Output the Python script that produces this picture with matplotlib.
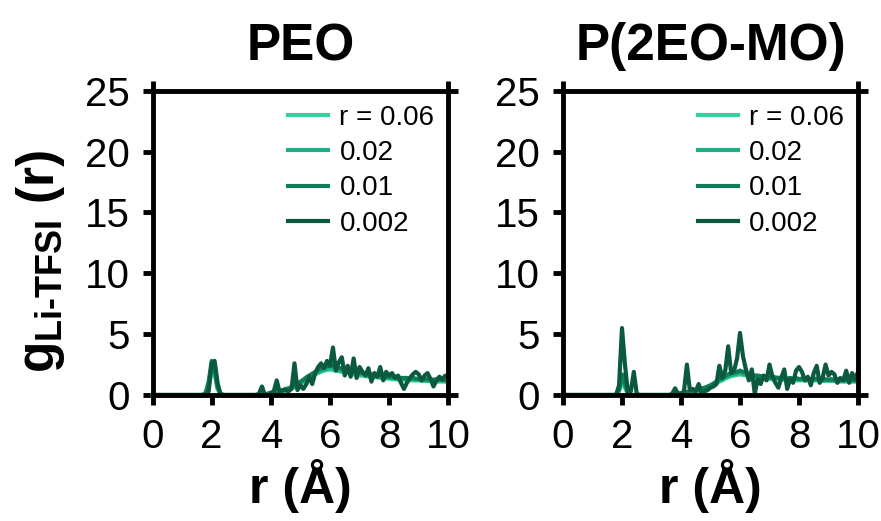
import numpy as np
import matplotlib
matplotlib.use("Agg")
import matplotlib.pyplot as plt

plt.rcParams['font.family'] = ['Liberation Sans', 'DejaVu Sans']
plt.rcParams['mathtext.fontset'] = 'custom'
plt.rcParams['mathtext.rm'] = 'Liberation Sans:bold'
plt.rcParams['mathtext.bf'] = 'Liberation Sans:bold'
plt.rcParams['mathtext.it'] = 'Liberation Sans:italic'

# ---------------- data ----------------
r_grid = np.round(np.arange(0, 101) * 0.1, 1)  # 0.0 .. 10.0 Å

series_labels = ["r = 0.06", "0.02", "0.01", "0.002"]
series_colors = ["#34d1a0", "#1db086", "#0f7d5a", "#0b5a40"]
panel_titles = ["PEO", "P(2EO-MO)"]

# PEO
peo_006 = ([0.0] * 18 + [0.1, 0.7, 2.0, 1.7, 0.5, 0.1] + [0.0] * 14 +
           [0.05, 0.1, 0.1, 0.15, 0.2, 0.25, 0.3, 0.35, 0.45, 0.55, 0.65, 0.8,
            0.95, 1.1, 1.25, 1.4, 1.55, 1.7, 1.8, 1.9, 2.0, 2.05, 2.1, 2.05,
            2.0, 1.95, 1.9, 1.85, 1.8, 1.75, 1.7, 1.65, 1.6, 1.6, 1.55, 1.5,
            1.5, 1.45, 1.45, 1.4, 1.4, 1.35, 1.35,
            1.3, 1.3, 1.25, 1.25, 1.25, 1.2, 1.2, 1.2, 1.2, 1.2, 1.15, 1.15,
            1.15, 1.15, 1.1, 1.1, 1.1, 1.1, 1.1, 1.1])
peo_002 = ([0.0] * 18 + [0.15, 0.9, 2.4, 2.0, 0.6, 0.1] + [0.0] * 14 +
           [0.05, 0.1, 0.15, 0.2, 0.25, 0.3, 0.35, 0.4, 0.5, 0.6, 0.7, 0.85,
            1.0, 1.15, 1.3, 1.45, 1.6, 1.75, 1.9, 2.0, 2.1, 2.15, 2.25, 2.2,
            2.15, 2.05, 2.0, 1.95, 1.9, 1.85, 1.8, 1.75, 1.7, 1.7, 1.65, 1.6,
            1.6, 1.55, 1.5, 1.5, 1.45, 1.45, 1.4,
            1.4, 1.35, 1.35, 1.35, 1.3, 1.3, 1.3, 1.3, 1.25, 1.25, 1.25, 1.25,
            1.2, 1.2, 1.2, 1.2, 1.2, 1.2, 1.2, 1.2])
peo_001 = ([0.0] * 18 + [0.2, 1.1, 2.8, 2.3, 0.7, 0.1] + [0.0] * 14 +
           [0.05, 0.1, 0.2, 0.25, 0.3, 0.35, 0.4, 0.5, 0.55, 0.65, 0.8, 0.95,
            1.1, 1.25, 1.45, 1.6, 1.75, 1.9, 2.05, 2.2, 2.3, 2.35, 2.45, 2.4,
            2.3, 2.25, 2.15, 2.1, 2.05, 1.95, 1.9, 1.85, 1.85, 1.8, 1.75, 1.7,
            1.7, 1.65, 1.6, 1.6, 1.55, 1.5, 1.5,
            1.5, 1.45, 1.45, 1.4, 1.4, 1.4, 1.35, 1.4, 1.35, 1.3, 1.35, 1.3,
            1.3, 1.3, 1.25, 1.3, 1.25, 1.25, 1.2, 1.25])
peo_0002 = ([0.0] * 19 + [0.3, 2.6, 2.8, 1.0, 0.0] + [0.0] * 12 +
            [0.1, 0.7, 0.0, 0.0, 0.1, 0.3, 1.2, 0.2, 0.4, 0.4, 0.3, 0.5, 2.6,
             0.4, 0.8, 0.5, 0.9, 1.5, 0.9, 1.8, 2.3, 2.6, 2.2, 2.8, 2.4, 3.9,
             2.0, 2.7, 3.1, 1.6, 2.4, 1.5, 3.0, 1.4, 2.3, 1.9, 1.6, 2.2, 1.1,
             1.8, 1.5, 2.3, 1.2, 1.9, 1.6, 1.8, 1.4, 1.6, 1.0, 0.5, 1.0, 1.4,
             1.7, 1.9, 1.7, 1.2, 1.6, 1.8, 1.3, 0.7, 1.2, 1.5, 1.3, 1.6, 1.5])

# P(2EO-MO)
p2eo_006 = ([0.0] * 19 + [0.3, 1.0, 0.6, 0.1] + [0.0] * 15 +
            [0.05, 0.05, 0.1, 0.1, 0.15, 0.2, 0.25, 0.3, 0.35, 0.4, 0.5, 0.6,
             0.7, 0.8, 0.95, 1.1, 1.2, 1.35, 1.45, 1.55, 1.6, 1.65, 1.7, 1.65,
             1.6, 1.55, 1.5, 1.45, 1.4, 1.4, 1.35, 1.35, 1.3, 1.3, 1.3, 1.3,
             1.25, 1.25, 1.25, 1.25, 1.25, 1.2, 1.2, 1.2, 1.2, 1.2, 1.2, 1.2,
             1.2, 1.15, 1.15, 1.15, 1.15, 1.15, 1.15, 1.15, 1.1, 1.1, 1.1,
             1.1, 1.1, 1.1, 1.1])
p2eo_002 = ([0.0] * 19 + [0.4, 1.4, 0.8, 0.15] + [0.0] * 15 +
            [0.05, 0.1, 0.1, 0.15, 0.2, 0.25, 0.3, 0.35, 0.4, 0.5, 0.55, 0.65,
             0.75, 0.9, 1.05, 1.2, 1.3, 1.45, 1.55, 1.65, 1.7, 1.75, 1.8, 1.75,
             1.7, 1.65, 1.6, 1.55, 1.5, 1.5, 1.45, 1.45, 1.4, 1.4, 1.4, 1.35,
             1.35, 1.35, 1.3, 1.35, 1.3, 1.3, 1.3, 1.3, 1.25, 1.3, 1.25, 1.25,
             1.25, 1.25, 1.2, 1.25, 1.2, 1.2, 1.2, 1.2, 1.2, 1.15, 1.2, 1.15,
             1.15, 1.15, 1.15])
p2eo_001 = ([0.0] * 19 + [0.5, 1.7, 1.0, 0.2] + [0.0] * 15 +
            [0.05, 0.1, 0.15, 0.2, 0.25, 0.3, 0.35, 0.4, 0.45, 0.55, 0.6, 0.7,
             0.8, 0.95, 1.1, 1.3, 1.4, 1.55, 1.7, 1.8, 1.85, 1.9, 2.0, 1.9,
             1.85, 1.75, 1.7, 1.6, 1.6, 1.55, 1.5, 1.55, 1.45, 1.5, 1.45, 1.4,
             1.45, 1.4, 1.35, 1.4, 1.35, 1.4, 1.3, 1.35, 1.3, 1.35, 1.3, 1.3,
             1.35, 1.3, 1.25, 1.3, 1.25, 1.3, 1.25, 1.25, 1.3, 1.2, 1.25, 1.2,
             1.25, 1.2, 1.2])
p2eo_0002 = ([0.0] * 19 + [0.8, 5.5, 2.5, 0.2, 0.3, 1.9, 0.1] + [0.0] * 11 +
             [0.1, 0.55, 0.1, 0.1, 0.3, 2.5, 0.4, 0.5, 0.3, 0.9, 0.1, 0.3, 0.4,
              0.6, 0.7, 0.9, 2.4, 1.4, 2.0, 4.0, 1.8, 2.0, 3.0, 5.1, 3.2, 2.1,
              1.2, 2.1, 0.1, 1.3, 0.9, 1.6, 1.2, 2.5, 1.5, 1.0, 0.6, 1.4, 2.1,
              0.5, 1.3, 1.0, 2.0, 2.3, 1.9, 1.2, 1.5, 0.8, 1.8, 2.4, 1.0, 1.4,
              2.5, 1.6, 1.9, 1.7, 1.0, 1.4, 1.2, 2.0, 1.0, 1.8, 1.3, 1.9])

panels = [
    [peo_006, peo_002, peo_001, peo_0002],
    [p2eo_006, p2eo_002, p2eo_001, p2eo_0002],
]

# ---------------- figure ----------------
fig = plt.figure(figsize=(8.81, 5.21), dpi=100)
W, H = 881, 521
boxes = [(152.5, 448.3), (563.0, 858.0)]
top_px, bot_px = 90.7, 395.0

spine_lw = 3.5
data_lw = 3.0
tick_len = 7.5
tick_fs = 29

axes = []
for (x0, x1), series, title in zip(boxes, panels, panel_titles):
    ax = fig.add_axes([x0 / W, (H - bot_px) / H, (x1 - x0) / W, (bot_px - top_px) / H])
    for vals, col, lab in zip(series, series_colors, series_labels):
        ax.plot(r_grid, vals, color=col, lw=data_lw, label=lab, solid_joinstyle='round',
                clip_on=False, zorder=3)
    ax.set_xlim(0, 10)
    ax.set_ylim(0, 25)
    ax.set_xticks([0, 2, 4, 6, 8, 10])
    ax.set_yticks([0, 5, 10, 15, 20, 25])
    for s in ax.spines.values():
        s.set_linewidth(spine_lw)
        s.set_zorder(4)
    ax.tick_params(axis='both', which='major', direction='out', length=tick_len,
                   width=spine_lw, labelsize=tick_fs, pad=9)
    # corner ticks on top and right (extended frame look)
    sx = ax.secondary_xaxis('top')
    sx.set_xticks([0, 10])
    sx.tick_params(direction='out', length=tick_len, width=spine_lw, labeltop=False)
    sx.spines['top'].set_visible(False)
    sy = ax.secondary_yaxis('right')
    sy.set_yticks([0, 25])
    sy.tick_params(direction='out', length=tick_len, width=spine_lw, labelright=False)
    sy.spines['right'].set_visible(False)

    ax.set_title(title, fontsize=37, fontweight='bold', pad=22)
    ax.set_xlabel('r (Å)', fontsize=36, fontweight='bold', labelpad=2)
    leg = ax.legend(loc='upper right', frameon=False, fontsize=20,
                    handlelength=1.45, handletextpad=0.4, labelspacing=0.34,
                    borderaxespad=0.2, borderpad=0.3)
    for lh in leg.get_lines():
        lh.set_linewidth(data_lw)
    axes.append(ax)

ylab_fancy = r'$\mathbf{g_{Li\text{-}TFSI}}$ (r)'
ylab_plain = r'$\mathbf{g_{Li{-}TFSI}}$ (r)'
axes[0].set_ylabel(ylab_fancy, fontsize=37, fontweight='bold')
try:
    fig.canvas.draw()
except Exception:
    axes[0].set_ylabel(ylab_plain, fontsize=37, fontweight='bold')
axes[0].yaxis.set_label_coords(-0.29, 0.44)

fig.savefig('out.png', dpi=100)
